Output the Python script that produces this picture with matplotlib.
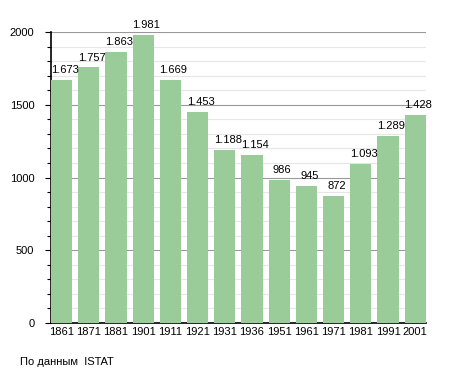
import matplotlib
matplotlib.use('Agg')
import matplotlib.pyplot as plt
from matplotlib.ticker import MultipleLocator

# Abitanti censiti
anni = ['1861', '1871', '1881', '1901', '1911', '1921', '1931', '1936',
        '1951', '1961', '1971', '1981', '1991', '2001']
abitanti = [1673, 1757, 1863, 1981, 1669, 1453, 1188, 1154,
            986, 945, 872, 1093, 1289, 1428]

plt.rcParams['font.family'] = ['Liberation Sans', 'DejaVu Sans']

fig = plt.figure(figsize=(4.55, 3.73), dpi=100)
ax = fig.add_axes([0.112, 0.134, 0.824, 0.780])

x = range(len(anni))
ax.bar(x, abitanti, width=0.78, color='#99cc99', zorder=3)

for i, v in enumerate(abitanti):
    etichetta = f'{v:,}'.replace(',', '.')
    ax.annotate(etichetta, (i, v), xytext=(2.2, 3.5), textcoords='offset points',
                ha='center', va='bottom', fontsize=8, zorder=4)

ax.set_xlim(-0.39, len(anni) - 0.61)
ax.set_ylim(0, 2000)
ax.set_xticks(list(x))
ax.set_xticklabels(anni, fontsize=8)
ax.yaxis.set_major_locator(MultipleLocator(500))
ax.yaxis.set_minor_locator(MultipleLocator(100))
ax.tick_params(axis='y', labelsize=8, length=4, width=0.8, pad=8)
ax.tick_params(axis='y', which='minor', length=3, width=0.8)
ax.tick_params(axis='x', length=0, pad=3)

ax.grid(axis='y', which='major', color='#999999', linewidth=0.8, zorder=0)
ax.grid(axis='y', which='minor', color='#e6e6e6', linewidth=0.8, zorder=0)
ax.set_axisbelow(True)

for lato in ['top', 'right']:
    ax.spines[lato].set_visible(False)
ax.spines['left'].set_linewidth(1.2)
ax.spines['bottom'].set_linewidth(1.2)

fig.text(20 / 455, 1 - 362 / 373, 'По данным  ISTAT', fontsize=8, va='center')

fig.savefig('out.png', dpi=100)
